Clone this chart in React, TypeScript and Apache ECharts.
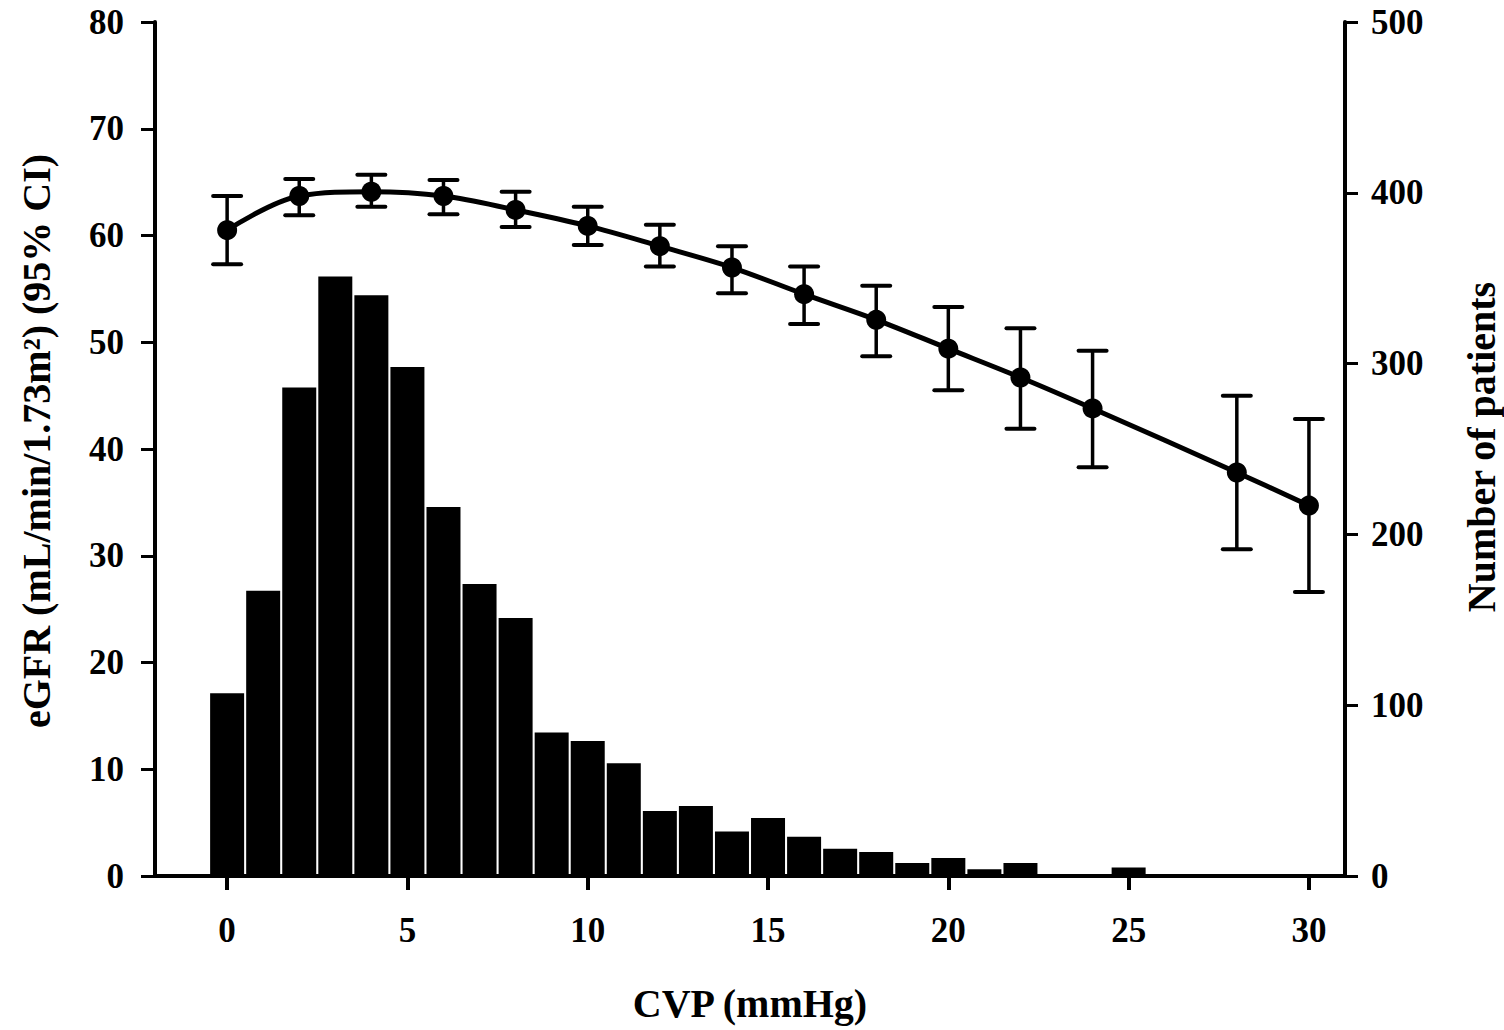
import React, { useEffect, useRef } from "react";
import * as echarts from "echarts";

// Histogram: number of patients at each CVP value (right axis)
const histCVP = [0, 1, 2, 3, 4, 5, 6, 7, 8, 9, 10, 11, 12, 13, 14, 15, 16, 17, 18, 19, 20, 21, 22, 23, 24, 25, 26, 27, 28, 29, 30];
const patients = [107, 167, 286, 351, 340, 298, 216, 171, 151, 84, 79, 66, 38, 41, 26, 34, 23, 16, 14, 7.6, 10.5, 4, 7.6, 1, 1, 5, 0.5, 1, 1, 0.5, 1];

// eGFR curve with 95% CI (left axis)
const cvpPoints = [0, 2, 4, 6, 8, 10, 12, 14, 16, 18, 20, 22, 24, 28, 30];
const egfrMean = [60.5, 63.7, 64.1, 63.7, 62.4, 60.9, 59.0, 57.0, 54.5, 52.1, 49.4, 46.7, 43.8, 37.8, 34.7];
const ciLow = [57.3, 61.9, 62.7, 62.0, 60.8, 59.1, 57.1, 54.6, 51.7, 48.7, 45.5, 41.9, 38.3, 30.6, 26.6];
const ciHigh = [63.7, 65.3, 65.7, 65.2, 64.1, 62.7, 61.0, 59.0, 57.1, 55.3, 53.3, 51.3, 49.2, 45.0, 42.8];

const xTickValues = [0, 5, 10, 15, 20, 25, 30];

const FONT = "'Liberation Serif', 'Times New Roman', serif";

export default function App() {
  const ref = useRef<HTMLDivElement>(null);

  useEffect(() => {
    if (!ref.current) return;
    const chart = echarts.init(ref.current, null, { renderer: "svg" });

    const labelStyle = {
      color: "#000",
      fontFamily: FONT,
      fontWeight: "bold" as const,
      fontSize: 35,
      lineHeight: 30,
    };

    const option: any = {
      animation: false,
      backgroundColor: "#fff",
      grid: { left: 155, right: 159, top: 22, bottom: 154, containLabel: false },
      xAxis: {
        type: "value",
        min: -2,
        max: 31,
        axisLine: { show: true, onZero: false, lineStyle: { color: "#000", width: 4 } },
        axisTick: {
          show: true,
          customValues: xTickValues,
          length: 14,
          lineStyle: { color: "#000", width: 4 },
        },
        axisLabel: { ...labelStyle, customValues: xTickValues, margin: 39 },
        splitLine: { show: false },
      },
      yAxis: [
        {
          type: "value",
          min: 0,
          max: 80,
          interval: 10,
          position: "left",
          axisLine: { show: true, onZero: false, lineStyle: { color: "#000", width: 4 } },
          axisTick: { show: true, length: 14, lineStyle: { color: "#000", width: 3 } },
          axisLabel: { ...labelStyle, margin: 31 },
          splitLine: { show: false },
        },
        {
          type: "value",
          min: 0,
          max: 500,
          interval: 100,
          position: "right",
          axisLine: { show: true, onZero: false, lineStyle: { color: "#000", width: 4 } },
          axisTick: { show: true, length: 13, lineStyle: { color: "#000", width: 3 } },
          axisLabel: { ...labelStyle, margin: 26 },
          splitLine: { show: false },
        },
      ],
      series: [
        {
          type: "bar",
          yAxisIndex: 1,
          data: histCVP.map((c, i) => [c, patients[i]]),
          barWidth: 34,
          itemStyle: { color: "#000" },
          z: 1,
        },
        {
          type: "custom",
          yAxisIndex: 0,
          data: cvpPoints.map((c, i) => [c, ciLow[i], ciHigh[i]]),
          encode: { x: 0, y: [1, 2] },
          z: 3,
          renderItem: (params: any, api: any) => {
            const x = api.value(0);
            const lo = api.coord([x, api.value(1)]);
            const hi = api.coord([x, api.value(2)]);
            const half = 14;
            const stroke = { stroke: "#000", lineWidth: 4, lineCap: "round" };
            return {
              type: "group",
              children: [
                { type: "line", shape: { x1: hi[0], y1: hi[1], x2: lo[0], y2: lo[1] }, style: { stroke: "#000", lineWidth: 3.5 } },
                { type: "line", shape: { x1: hi[0] - half, y1: hi[1], x2: hi[0] + half, y2: hi[1] }, style: stroke },
                { type: "line", shape: { x1: lo[0] - half, y1: lo[1], x2: lo[0] + half, y2: lo[1] }, style: stroke },
              ],
            };
          },
        },
        {
          type: "line",
          yAxisIndex: 0,
          data: cvpPoints.map((c, i) => [c, egfrMean[i]]),
          smooth: 0.35,
          symbol: "circle",
          symbolSize: 20,
          lineStyle: { color: "#000", width: 5 },
          itemStyle: { color: "#000" },
          z: 4,
        },
      ],
      graphic: [
        {
          type: "text",
          x: 36,
          y: 441,
          rotation: Math.PI / 2,
          style: {
            text: "eGFR (mL/min/1.73m²) (95% CI)",
            fontSize: 40,
            fontWeight: "bold",
            fontFamily: FONT,
            fill: "#000",
            align: "center",
            verticalAlign: "middle",
          },
        },
        {
          type: "text",
          x: 1481,
          y: 447,
          rotation: Math.PI / 2,
          style: {
            text: "Number of patients",
            fontSize: 40,
            fontWeight: "bold",
            fontFamily: FONT,
            fill: "#000",
            align: "center",
            verticalAlign: "middle",
          },
        },
        {
          type: "text",
          x: 750,
          y: 1003,
          style: {
            text: "CVP (mmHg)",
            fontSize: 40,
            fontWeight: "bold",
            fontFamily: FONT,
            fill: "#000",
            align: "center",
            verticalAlign: "middle",
          },
        },
      ],
    };

    chart.setOption(option);
    return () => chart.dispose();
  }, []);

  return (
    <div
      ref={ref}
      style={{ position: "fixed", left: 0, top: 0, width: 1504, height: 1030, background: "#fff" }}
    />
  );
}
